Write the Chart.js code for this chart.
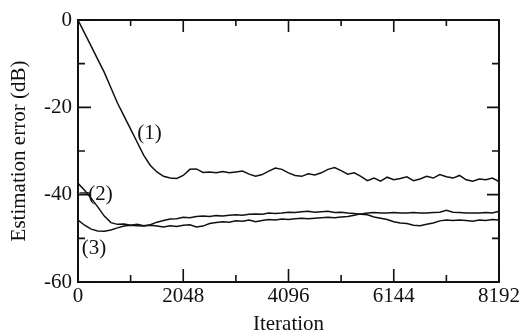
<!DOCTYPE html>
<html>
<head>
<meta charset="utf-8">
<script src="https://cdn.jsdelivr.net/npm/chart.js"></script>
<style>
  body { margin: 0; background: #fff; }
  #errChart { display: block; }
</style>
</head>
<body>
<canvas id="errChart" width="532" height="335"></canvas>
<script>
// sample positions (iteration)
var iters = [0, 128, 256, 384, 512, 640, 768, 896, 1024, 1152, 1280, 1408, 1536, 1664, 1792, 1920,
  2048, 2176, 2304, 2432, 2560, 2688, 2816, 2944, 3072, 3200, 3328, 3456, 3584, 3712, 3840, 3968,
  4096, 4224, 4352, 4480, 4608, 4736, 4864, 4992, 5120, 5248, 5376, 5504, 5632, 5760, 5888, 6016,
  6144, 6272, 6400, 6528, 6656, 6784, 6912, 7040, 7168, 7296, 7424, 7552, 7680, 7808, 7936, 8064, 8192];

// curve (1)
var curve1 = [0, -3.0, -6.0, -9.0, -12.0, -15.5, -19.0, -22.0, -25.0, -28.0, -31.0, -33.3, -34.8, -35.8, -36.2, -36.3,
  -35.6, -34.2, -34.1, -34.9, -34.8, -35.0, -34.7, -35.0, -34.8, -34.6, -35.3, -35.8, -35.4, -34.6, -33.9, -34.2,
  -35.0, -35.6, -35.8, -35.2, -35.5, -35.0, -34.2, -33.8, -34.5, -35.3, -35.0, -35.8, -36.8, -36.2, -36.9, -36.0,
  -36.6, -36.3, -35.9, -36.8, -36.4, -35.8, -36.2, -35.4, -35.9, -36.2, -35.6, -36.6, -36.9, -36.4, -36.6, -36.2, -37.0];

// curve (2)
var curve2 = [-37.4, -39.0, -40.8, -42.8, -44.9, -46.4, -46.8, -46.7, -47.0, -46.8, -47.1, -46.9, -46.3, -45.9, -45.6, -45.5,
  -45.2, -45.3, -45.0, -44.9, -45.0, -44.8, -44.9, -44.7, -44.6, -44.7, -44.5, -44.4, -44.5, -44.2, -44.3, -44.2,
  -44.0, -44.1, -43.9, -43.8, -44.0, -43.9, -43.8, -44.1, -44.0, -44.2, -44.3, -44.5, -44.6, -45.1, -45.4, -45.7,
  -46.2, -46.5, -46.6, -47.0, -47.1, -46.8, -46.5, -46.0, -45.8, -45.9, -45.8, -45.9, -46.1, -45.8, -45.9, -45.7, -45.8];

// curve (3)
var curve3 = [-45.8, -47.0, -47.9, -48.3, -48.4, -48.1, -47.6, -47.2, -47.0, -47.1, -47.2, -47.0, -47.2, -47.4, -47.1, -47.3,
  -47.0, -46.9, -47.4, -47.2, -46.6, -46.4, -46.2, -46.3, -46.0, -46.1, -45.8, -46.2, -45.9, -45.7, -45.8, -45.6,
  -45.7, -45.5, -45.4, -45.5, -45.4, -45.3, -45.2, -45.3, -45.1, -45.0, -44.7, -44.4, -44.2, -44.1, -44.2, -44.2,
  -44.1, -44.2, -44.2, -44.1, -44.2, -44.2, -44.1, -44.0, -43.6, -44.0, -44.1, -44.2, -44.2, -44.2, -44.1, -44.2, -43.8];

// tick values
var xMajor = [0, 2048, 4096, 6144, 8192];
var xMinor = [1024, 3072, 5120, 7168];
var yMajor = [0, -20, -40, -60];
var yMinor = [-10, -30, -50];

// curve tags, placed in data units
var tagText = ["(1)", "(2)", "(3)"];
var tagIter = [1390, 440, 310];
var tagDb = [-26, -40, -52.4];

var serif = "'Liberation Serif', 'Times New Roman', serif";
var ink = "#111";

function toPoints(vals) {
  return vals.map(function (v, i) { return { x: iters[i], y: v }; });
}

function lineSet(vals) {
  return {
    data: toPoints(vals),
    borderColor: ink,
    borderWidth: 1.5,
    pointRadius: 0,
    tension: 0,
    fill: false,
  };
}

// frame, inward ticks and curve tags
const frameTicks = {
  id: "frameTicks",
  afterDatasetsDraw(chart) {
    const {
      ctx,
      chartArea: { top, bottom, left, right },
      scales: { x, y },
    } = chart;
    ctx.save();
    ctx.strokeStyle = ink;
    ctx.lineWidth = 2;
    ctx.strokeRect(left, top, right - left, bottom - top);

    ctx.lineWidth = 1.6;
    ctx.beginPath();
    xMajor.forEach(function (v) {
      var px = x.getPixelForValue(v);
      ctx.moveTo(px, bottom); ctx.lineTo(px, bottom - 13);
      ctx.moveTo(px, top); ctx.lineTo(px, top + 12);
    });
    xMinor.forEach(function (v) {
      var px = x.getPixelForValue(v);
      ctx.moveTo(px, bottom); ctx.lineTo(px, bottom - 7);
      ctx.moveTo(px, top); ctx.lineTo(px, top + 6);
    });
    yMajor.forEach(function (v) {
      var py = y.getPixelForValue(v);
      ctx.moveTo(left, py); ctx.lineTo(left + 13, py);
      ctx.moveTo(right, py); ctx.lineTo(right - 12, py);
    });
    yMinor.forEach(function (v) {
      var py = y.getPixelForValue(v);
      ctx.moveTo(left, py); ctx.lineTo(left + 7, py);
      ctx.moveTo(right, py); ctx.lineTo(right - 7, py);
    });
    ctx.stroke();

    // leader line of tag (2)
    ctx.lineWidth = 1.3;
    ctx.beginPath();
    ctx.moveTo(x.getPixelForValue(30), y.getPixelForValue(-39.6));
    ctx.lineTo(x.getPixelForValue(230), y.getPixelForValue(-39.6));
    ctx.stroke();

    ctx.font = "21px " + serif;
    ctx.fillStyle = ink;
    ctx.textAlign = "center";
    ctx.textBaseline = "middle";
    tagText.forEach(function (t, i) {
      ctx.fillText(t, x.getPixelForValue(tagIter[i]), y.getPixelForValue(tagDb[i]));
    });
    ctx.restore();
  },
};

const config = {
  type: "line",
  data: {
    datasets: [lineSet(curve1), lineSet(curve2), lineSet(curve3)],
  },
  options: {
    responsive: false,
    animation: false,
    layout: {
      padding: { top: 20, right: 33, left: 0, bottom: 0 },
    },
    plugins: {
      legend: { display: false },
      tooltip: { enabled: false },
    },
    scales: {
      x: {
        type: "linear",
        min: 0,
        max: 8192,
        afterFit: function (scale) { scale.height = 53; },
        grid: { display: false, drawTicks: false },
        border: { display: false },
        ticks: {
          stepSize: 2048,
          padding: 2,
          color: ink,
          font: { family: serif, size: 21 },
          callback: function (v) { return String(v); },
        },
        title: {
          display: true,
          text: "Iteration",
          color: ink,
          font: { family: serif, size: 21, lineHeight: 1 },
          padding: { top: 0, bottom: 0 },
        },
      },
      y: {
        min: -60,
        max: 0,
        afterFit: function (scale) { scale.width = 78; },
        grid: { display: false, drawTicks: false },
        border: { display: false },
        ticks: {
          stepSize: 20,
          padding: 6,
          color: ink,
          font: { family: serif, size: 21 },
        },
        title: {
          display: true,
          text: "Estimation error (dB)",
          color: ink,
          font: { family: serif, size: 21, lineHeight: 1 },
          padding: { top: 9, bottom: 0 },
        },
      },
    },
  },
  plugins: [frameTicks],
};

new Chart(document.getElementById("errChart"), config);
</script>
</body>
</html>
